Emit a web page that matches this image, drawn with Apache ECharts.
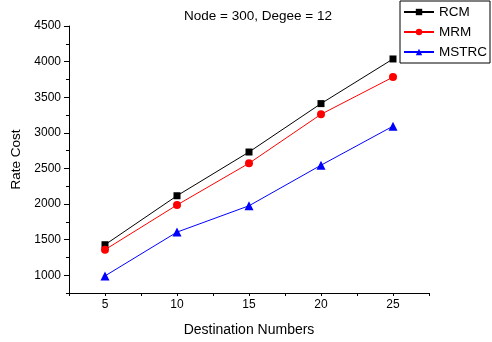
<!DOCTYPE html>
<html><head><meta charset="utf-8">
<script src="https://cdn.jsdelivr.net/npm/echarts@6/dist/echarts.min.js"></script>
<style>html,body{margin:0;padding:0;background:#fff}#c{width:492px;height:342px}</style>
</head><body><div id="c"></div>
<script>
const categories = [5, 10, 15, 20, 25];
const rcm = [1428, 2116, 2730, 3410, 4037];
const mrm = [1358, 1986, 2572, 3260, 3782];
const mstrc = [990, 1605, 1975, 2545, 3093];
const yMajorTicks = [1000, 1500, 2000, 2500, 3000, 3500, 4000, 4500];
const titleText = 'Node = 300, Degee = 12';
const xName = 'Destination Numbers';
const yName = 'Rate Cost';

const font = 'Liberation Sans, Arial, sans-serif';
const pair = arr => categories.map((c, i) => [c, arr[i]]);
const chart = echarts.init(document.getElementById('c'));
const mk = (name, data, color, symbol, size) => ({
  name, type: 'line', data: pair(data), symbol, symbolSize: size,
  lineStyle: { color, width: 1 }, itemStyle: { color }, animation: false
});
chart.setOption({
  animation: false,
  title: { text: titleText, left: 253, top: 4, textAlign: 'center',
    textStyle: { fontFamily: font, fontSize: 13.5, fontWeight: 'normal', color: '#000' } },
  legend: {
    orient: 'vertical', right: 2, top: 1, itemWidth: 30, itemHeight: 8, itemGap: 6,
    padding: [4, 3, 4, 3], borderColor: '#000', borderWidth: 1, backgroundColor: '#fff',
    textStyle: { fontFamily: font, fontSize: 13.5, color: '#000' },
    data: ['RCM', 'MRM', 'MSTRC']
  },
  grid: { left: 69, right: 63, top: 26, bottom: 48 },
  xAxis: {
    type: 'value', min: 2.5, max: 27.5, interval: 2.5,
    name: xName, nameLocation: 'middle', nameGap: 30,
    nameTextStyle: { fontFamily: font, fontSize: 14, color: '#000' },
    axisLine: { lineStyle: { color: '#000', width: 1 } },
    axisTick: { inside: false, length: 3, lineStyle: { color: '#000' } },
    axisLabel: { fontFamily: font, fontSize: 12, color: '#000', margin: 6,
      formatter: v => (v % 5 === 0 ? String(v) : '') },
    splitLine: { show: false }
  },
  yAxis: [{
    type: 'value', min: 750, max: 4500, interval: 250,
    name: yName, nameLocation: 'middle', nameGap: 44, nameRotate: 90,
    nameTextStyle: { fontFamily: font, fontSize: 13.5, color: '#000' },
    axisLine: { show: true, lineStyle: { color: '#000', width: 1 } },
    axisTick: { inside: false, length: 5, customValues: yMajorTicks, lineStyle: { color: '#000' } },
    axisLabel: { fontFamily: font, fontSize: 12, color: '#000', margin: 8,
      formatter: v => (v % 500 === 0 ? String(v) : '') },
    splitLine: { show: false }
  }, {
    type: 'value', min: 750, max: 4500, interval: 250, position: 'left',
    axisLine: { show: false },
    axisTick: { show: true, inside: false, length: 3, lineStyle: { color: '#000' } },
    axisLabel: { show: false },
    splitLine: { show: false }
  }],
  series: [
    mk('RCM', rcm, '#000000', 'rect', 7),
    mk('MRM', mrm, '#ff0000', 'circle', 8),
    mk('MSTRC', mstrc, '#0000ff', 'triangle', 9)
  ]
});
</script></body></html>
